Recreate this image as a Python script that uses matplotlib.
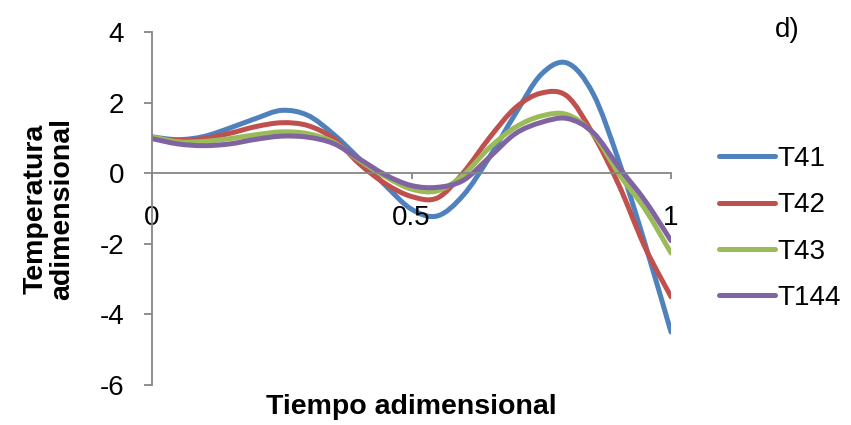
import matplotlib

matplotlib.use("Agg")
import matplotlib.pyplot as plt
import numpy as np
from matplotlib.lines import Line2D
from matplotlib.path import Path
from matplotlib.patches import PathPatch

# dimensionless time samples and the four temperature series
tiempo = [0.0, 0.05, 0.1, 0.15, 0.2, 0.25, 0.3, 0.35, 0.4, 0.45, 0.5,
          0.55, 0.6, 0.65, 0.7, 0.75, 0.8, 0.85, 0.9, 0.95, 1.0]
t41 = [1.03, 0.95, 1.04, 1.28, 1.55, 1.78, 1.64, 1.10, 0.40, -0.35, -1.02,
       -1.21, -0.62, 0.45, 1.68, 2.80, 3.12, 2.25, 0.32, -2.00, -4.50]
t42 = [1.00, 0.93, 0.98, 1.13, 1.32, 1.43, 1.35, 0.98, 0.26, -0.30, -0.66,
       -0.70, 0.02, 1.00, 1.85, 2.27, 2.18, 1.10, -0.35, -2.10, -3.50]
t43 = [1.03, 0.89, 0.90, 0.98, 1.09, 1.17, 1.12, 0.88, 0.36, -0.10, -0.45,
       -0.50, -0.05, 0.72, 1.30, 1.62, 1.66, 1.12, -0.03, -1.02, -2.26]
t144 = [0.98, 0.83, 0.78, 0.83, 0.96, 1.05, 1.02, 0.84, 0.40, -0.05, -0.35,
        -0.40, -0.20, 0.45, 1.12, 1.44, 1.55, 1.15, 0.16, -0.78, -1.91]

series = {"T41": t41, "T42": t42, "T43": t43, "T144": t144}
colors = ["#4F81BD", "#C0504D", "#9BBB59", "#8064A2"]
xticks = [0, 0.5, 1]
xtick_labels = ["0", "0.5", "1"]
yticks = [-6, -4, -2, 0, 2, 4]
ytick_labels = ["-6", "-4", "-2", "0", "2", "4"]

plt.rcParams["font.family"] = ["Liberation Sans", "DejaVu Sans"]


def smooth_path(x, y):
    """Excel-like smoothed line: Catmull-Rom segments as cubic Bezier curves."""
    p = np.column_stack([x, y])
    ext = np.vstack([p[0], p, p[-1]])
    verts = [p[0]]
    codes = [Path.MOVETO]
    for i in range(len(p) - 1):
        p0, p1, p2, p3 = ext[i], ext[i + 1], ext[i + 2], ext[i + 3]
        verts += [p1 + (p2 - p0) / 6, p2 - (p3 - p1) / 6, p2]
        codes += [Path.CURVE4] * 3
    return Path(verts, codes)


fig = plt.figure(figsize=(8.51, 4.25), dpi=100)
ax = fig.add_axes([0.1786, 0.0941, 0.6099, 0.8306])

handles = []
for (name, vals), c in zip(series.items(), colors):
    patch = PathPatch(smooth_path(tiempo, vals), fill=False, edgecolor=c,
                      lw=3.6, capstyle="round", joinstyle="round")
    ax.add_patch(patch)
    handles.append(Line2D([], [], color=c, lw=3.6, solid_capstyle="round", label=name))

ax.set_xlim(0, 1)
ax.set_ylim(-6, 4)
ax.set_xticks(xticks)
ax.set_xticklabels(xtick_labels)
ax.set_yticks(yticks)
ax.set_yticklabels(ytick_labels)

for s in ["top", "right"]:
    ax.spines[s].set_visible(False)
ax.spines["bottom"].set_position(("data", 0))
for s in ["left", "bottom"]:
    ax.spines[s].set_color("#868686")
    ax.spines[s].set_linewidth(1.3)

ax.tick_params(axis="y", length=6, width=1.3, color="#868686", pad=14, labelsize=20)
ax.tick_params(axis="x", length=4, width=1.3, color="#868686", pad=19, labelsize=20)

ax.set_xlabel("Tiempo adimensional", fontsize=20.5, fontweight="bold")
ax.xaxis.set_label_coords(0.5, -0.025)
ax.set_ylabel("Temperatura\nadimensional", fontsize=20.5, fontweight="bold",
              linespacing=1.05)
ax.yaxis.set_label_coords(-0.148, 0.5)

fig.text(0.925, 0.929, "d)", fontsize=20, ha="center", va="center")

fig.legend(handles=handles, loc="center left", bbox_to_anchor=(0.845, 0.4624),
           frameon=False, fontsize=20, handlelength=2.0, handletextpad=0.11,
           labelspacing=0.73, borderpad=0, borderaxespad=0)

fig.savefig("out.png", dpi=100)
